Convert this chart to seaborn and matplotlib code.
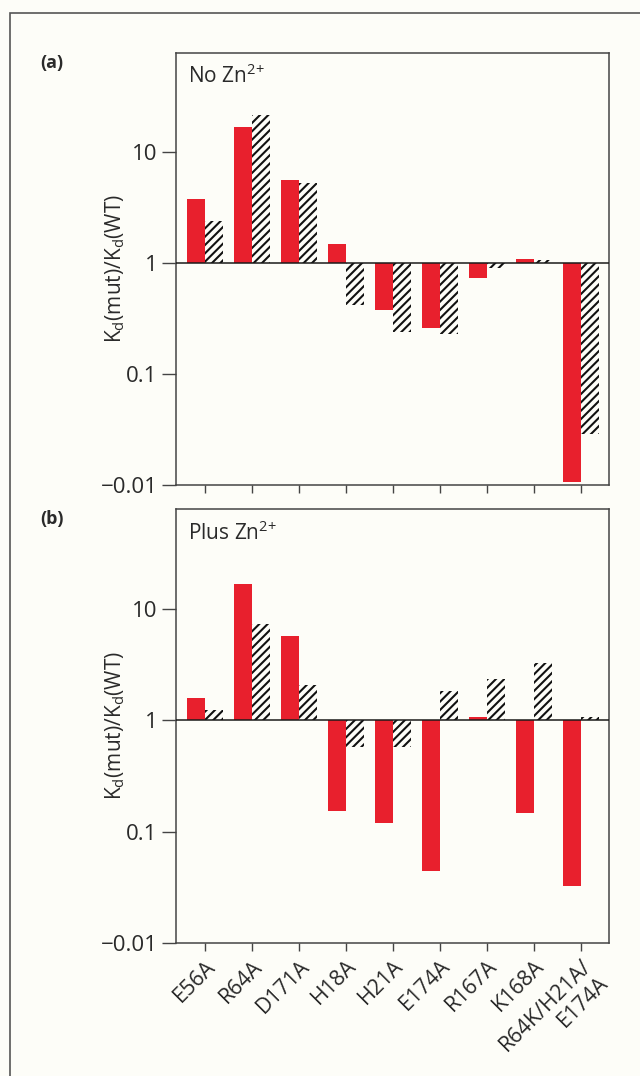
import matplotlib.pyplot as plt
from matplotlib.patches import Rectangle
import seaborn as sns
import numpy as np
import pandas as pd

# Kd(mut)/Kd(WT) for each mutant
mutants = ['E56A', 'R64A', 'D171A', 'H18A', 'H21A', 'E174A', 'R167A', 'K168A',
           'R64K/H21A/\nE174A']
no_zn_solid = [3.8, 17.0, 5.7, 1.5, 0.38, 0.26, 0.74, 1.1, 0.0106]
no_zn_hatched = [2.4, 22.0, 5.3, 0.42, 0.24, 0.23, 0.91, 1.07, 0.029]
plus_zn_solid = [1.58, 17.0, 5.7, 0.152, 0.119, 0.044, 1.08, 0.147, 0.0326]
plus_zn_hatched = [1.24, 7.3, 2.08, 0.58, 0.58, 1.84, 2.34, 3.27, 1.08]
series = ['solid', 'hatched']
panel_titles = ['No Zn$^{2{+}}$', 'Plus Zn$^{2{+}}$']
panel_tags = ['(a)', '(b)']
ytick_vals = [0.01, 0.1, 1, 10]
ytick_labels = ['\u22120.01', '0.1', '1', '10']

bg = '#fdfdf8'
red = '#e8202d'
ink = '#2a2a2a'

sns.set_style('ticks')
plt.rcParams['font.family'] = ['Open Sans', 'DejaVu Sans']
plt.rcParams['mathtext.default'] = 'regular'
plt.rcParams['hatch.linewidth'] = 1.5


def make_frame(solid, hatched):
    return pd.DataFrame({
        'mutant': mutants * 2,
        'series': [series[0]] * len(mutants) + [series[1]] * len(mutants),
        # bars grow from Kd ratio = 1, so draw them in log10 space
        'logratio': np.log10(np.array(solid + hatched)),
    })


panels = [make_frame(no_zn_solid, no_zn_hatched),
          make_frame(plus_zn_solid, plus_zn_hatched)]

fig = plt.figure(figsize=(6.4, 10.76), dpi=100, facecolor=bg)
axes_pos = [[0.2745, 0.5493, 0.677, 0.4017],
            [0.2745, 0.1239, 0.677, 0.4028]]

for i, df in enumerate(panels):
    ax = fig.add_axes(axes_pos[i])
    ax.set_facecolor(bg)
    sns.barplot(data=df, x='mutant', y='logratio', hue='series',
                palette={series[0]: red, series[1]: bg}, saturation=1,
                width=0.77, linewidth=0, legend=False, ax=ax)
    for bar in ax.containers[1]:
        bar.set_hatch('////')
        bar.set_edgecolor('#111111')
        bar.set_linewidth(0)

    ax.axhline(0, color='#1a1a1a', lw=1.1, zorder=5)
    ax.set_xlim(-0.62, 8.6)
    ax.set_ylim(-2, 1.9)
    ax.set_yticks(np.log10(ytick_vals))
    ax.set_yticklabels(ytick_labels, fontsize=16, color=ink)
    ax.tick_params(axis='y', length=10, width=1, color='#444444', pad=3)
    ax.tick_params(axis='x', length=6, width=1, color='#444444')
    for s in ax.spines.values():
        s.set_visible(True)
        s.set_color('#444444')
        s.set_linewidth(1.1)

    ax.set_xlabel('')
    ax.set_ylabel('K$_d$(mut)/K$_d$(WT)', fontsize=15, color=ink)
    ax.yaxis.set_label_coords(-0.112, 0.5)
    if i == 0:
        ax.set_xticklabels([])
    else:
        ax.set_xticks(range(len(mutants)))
        ax.set_xticklabels(mutants, rotation=45, ha='right', va='top',
                           rotation_mode='anchor', fontsize=15.5, color=ink,
                           multialignment='right')

    ax.text(0.028, 0.972, panel_titles[i], transform=ax.transAxes,
            ha='left', va='top', fontsize=15, color=ink)
    fig.text(40 / 640, axes_pos[i][1] + axes_pos[i][3] - 10 / 1076,
             panel_tags[i], ha='left', va='center', fontsize=13,
             fontweight='bold', color=ink)

fig.add_artist(Rectangle((10 / 640, -0.01), 1.0, 1 - 13 / 1076 + 0.01,
                         transform=fig.transFigure, fill=False,
                         edgecolor='#555555', lw=1.2))

fig.savefig('out.png', dpi=100, facecolor=bg)
